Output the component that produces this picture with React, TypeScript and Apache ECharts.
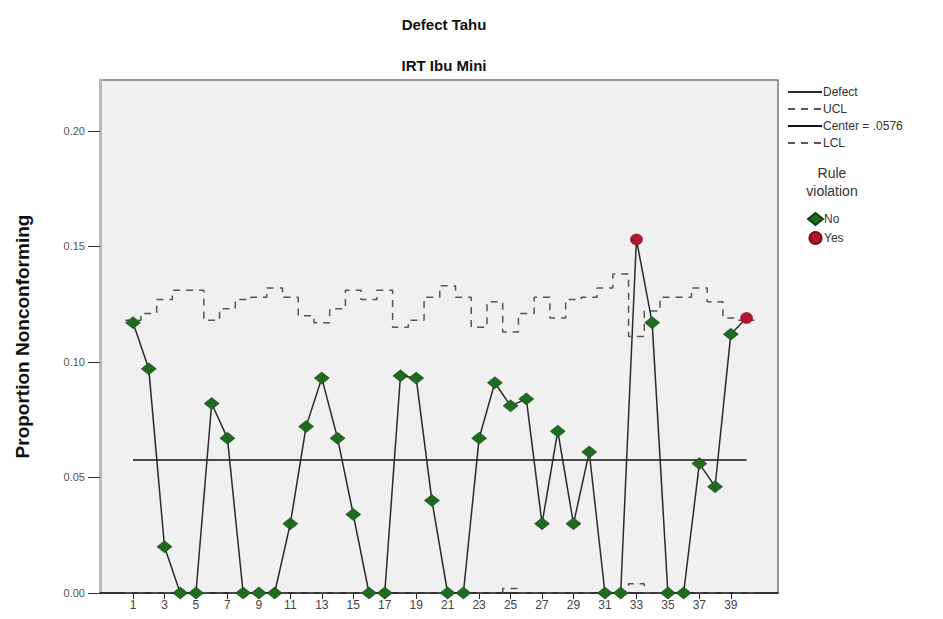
import React, { useEffect, useRef } from "react";
import * as echarts from "echarts";

const samples = [1, 2, 3, 4, 5, 6, 7, 8, 9, 10, 11, 12, 13, 14, 15, 16, 17, 18, 19, 20, 21, 22, 23, 24, 25, 26, 27, 28, 29, 30, 31, 32, 33, 34, 35, 36, 37, 38, 39, 40];
const defect = [0.117, 0.097, 0.020, 0, 0, 0.082, 0.067, 0, 0, 0, 0.030, 0.072, 0.093, 0.067, 0.034, 0, 0, 0.094, 0.093, 0.040, 0, 0, 0.067, 0.091, 0.081, 0.084, 0.030, 0.070, 0.030, 0.061, 0, 0, 0.153, 0.117, 0, 0, 0.056, 0.046, 0.112, 0.119];
const ucl = [0.118, 0.121, 0.127, 0.131, 0.131, 0.118, 0.123, 0.127, 0.128, 0.132, 0.128, 0.120, 0.117, 0.123, 0.131, 0.127, 0.131, 0.115, 0.118, 0.128, 0.133, 0.128, 0.115, 0.126, 0.113, 0.121, 0.128, 0.119, 0.127, 0.128, 0.132, 0.138, 0.111, 0.122, 0.128, 0.128, 0.132, 0.126, 0.119, 0.118];
const lcl = [0, 0, 0, 0, 0, 0, 0, 0, 0, 0, 0, 0, 0, 0, 0, 0, 0, 0, 0, 0, 0, 0, 0, 0, 0.002, 0, 0, 0, 0, 0, 0, 0, 0.004, 0, 0, 0, 0, 0, 0, 0];
const centerValue = 0.0576;
const violations = [33, 40];
const xTickLabels = [1, 3, 5, 7, 9, 11, 13, 15, 17, 19, 21, 23, 25, 27, 29, 31, 33, 35, 37, 39];
const yTickLabels = ["0.00", "0.05", "0.10", "0.15", "0.20"];

const FONT = "'Liberation Sans', Arial, sans-serif";

function stepData(vals: number[]) {
  const out: number[][] = [];
  samples.forEach((s, i) => {
    out.push([s - 0.5, vals[i]]);
    out.push([s + 0.5, vals[i]]);
  });
  return out;
}

export default function App() {
  const ref = useRef<HTMLDivElement>(null);
  useEffect(() => {
    if (!ref.current) return;
    const chart = echarts.init(ref.current, null, { renderer: "svg" });
    const defectData = samples.map((s, i) => [s, defect[i]]);
    const noData = samples.filter((s) => !violations.includes(s)).map((s) => [s, defect[s - 1]]);
    const yesData = samples.filter((s) => violations.includes(s)).map((s) => [s, defect[s - 1]]);
    const centerData = [[samples[0], centerValue], [samples[samples.length - 1], centerValue]];

    chart.setOption({
      animation: false,
      backgroundColor: "#ffffff",
      textStyle: { fontFamily: FONT },
      title: [
        { text: "Defect Tahu", left: 439, top: 12, textAlign: "center", textStyle: { fontSize: 15, fontWeight: "bold", color: "#111", fontFamily: FONT } },
        { text: "IRT Ibu Mini", left: 439, top: 53, textAlign: "center", textStyle: { fontSize: 15, fontWeight: "bold", color: "#111", fontFamily: FONT } },
      ],
      graphic: [
        { type: "text", x: 832, y: 164, style: { text: "Rule\nviolation", fill: "#333", font: "14px " + FONT, align: "center", lineHeight: 18 } },
      ],
      legend: [
        {
          data: ["Defect", "UCL", "Center = .0576", "LCL"],
          orient: "vertical",
          left: 782,
          top: 81,
          itemWidth: 34,
          itemHeight: 10,
          itemGap: 5,
          itemStyle: { opacity: 0 },
          textStyle: { fontSize: 12, color: "#333", fontFamily: FONT, padding: [0, 0, 0, -4] },
        },
        {
          data: ["No", "Yes"],
          orient: "vertical",
          left: 802,
          top: 207,
          itemWidth: 15,
          itemHeight: 12,
          itemGap: 5,
          textStyle: { fontSize: 12, color: "#333", fontFamily: FONT, padding: [0, 0, 0, -4] },
        },
      ],
      grid: {
        left: 100,
        right: 165,
        top: 80,
        bottom: 26,
        show: true,
        backgroundColor: "#f0f0f0",
        borderColor: "#7a7a7a",
        borderWidth: 1.5,
      },
      xAxis: {
        type: "value",
        min: -1.1,
        max: 42,
        axisLine: { show: true, onZero: false, lineStyle: { color: "#111", width: 1.5 } },
        axisTick: { show: true, customValues: xTickLabels, length: 6, lineStyle: { color: "#222" } },
        axisLabel: { customValues: xTickLabels, fontSize: 12, color: "#444", margin: 6, fontFamily: FONT },
        splitLine: { show: false },
      },
      yAxis: {
        type: "value",
        min: 0,
        max: 0.222,
        interval: 0.05,
        name: "Proportion Nonconforming",
        nameLocation: "middle",
        nameGap: 68,
        nameTextStyle: { fontSize: 19, fontWeight: "bold", color: "#111", fontFamily: FONT },
        axisLine: { show: true, onZero: false, lineStyle: { color: "#b8b8b8", width: 3 } },
        axisTick: { show: true, length: 12, lineStyle: { color: "#333" } },
        axisLabel: {
          fontSize: 11,
          color: "#555",
          margin: 15,
          fontFamily: FONT,
          showMaxLabel: false,
          formatter: (v: number) => {
            const k = v / 0.05;
            return Math.abs(k - Math.round(k)) < 1e-6 ? yTickLabels[Math.round(k)] ?? "" : "";
          },
        },
        splitLine: { show: false },
      },
      series: [
        {
          name: "UCL",
          type: "line",
          data: stepData(ucl),
          symbol: "none",
          itemStyle: { color: "#555" },
          lineStyle: { color: "#555", width: 1.5, type: [7, 6] },
          z: 2,
        },
        {
          name: "LCL",
          type: "line",
          data: stepData(lcl),
          symbol: "none",
          itemStyle: { color: "#555" },
          lineStyle: { color: "#555", width: 1.5, type: [7, 6] },
          z: 2,
        },
        {
          name: "Center = .0576",
          type: "line",
          data: centerData,
          symbol: "none",
          itemStyle: { color: "#111" },
          lineStyle: { color: "#111", width: 1.5 },
          z: 2,
        },
        {
          name: "Defect",
          type: "line",
          data: defectData,
          symbol: "none",
          itemStyle: { color: "#2a2a2a" },
          lineStyle: { color: "#2a2a2a", width: 1.5 },
          z: 3,
        },
        {
          name: "No",
          type: "scatter",
          data: noData,
          symbol: "diamond",
          symbolSize: [15, 12],
          itemStyle: { color: "#1f6b1f", borderColor: "#0f3f0f", borderWidth: 0.6, opacity: 1 },
          z: 4,
        },
        {
          name: "Yes",
          type: "scatter",
          data: yesData,
          symbol: "circle",
          symbolSize: [12, 11],
          itemStyle: { color: "#b3142f", borderColor: "#7a0d20", borderWidth: 0.6, opacity: 1 },
          z: 4,
        },
      ],
    });
    return () => chart.dispose();
  }, []);

  return (
    <div
      ref={ref}
      style={{ position: "fixed", left: 0, top: 0, width: 943, height: 619, background: "#fff" }}
    />
  );
}
